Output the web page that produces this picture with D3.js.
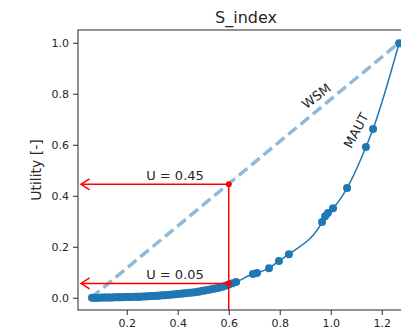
<!DOCTYPE html>
<html>
<head>
<meta charset="utf-8">
<script src="https://cdn.jsdelivr.net/npm/d3@7"></script>
<style>
  body { margin: 0; background: #fff; }
  svg { display: block; }
  text { font-family: "DejaVu Sans", sans-serif; fill: #262626; }
</style>
</head>
<body>
<div id="chart"></div>
<script>
// S_index values and the MAUT utility
var sIndex = [0.064, 0.072, 0.080, 0.088, 0.095, 0.104, 0.112, 0.120, 0.128, 0.135,
    0.144, 0.152, 0.160, 0.168, 0.174, 0.183, 0.192, 0.200, 0.207, 0.213,
    0.222, 0.231, 0.240, 0.246, 0.252, 0.262, 0.271, 0.280, 0.290, 0.299,
    0.308, 0.316, 0.323, 0.331, 0.340, 0.350, 0.360, 0.370, 0.380, 0.390,
    0.400, 0.410, 0.420, 0.429, 0.438, 0.448, 0.458, 0.468, 0.478, 0.487,
    0.497, 0.507, 0.517, 0.527, 0.537, 0.548, 0.558, 0.568, 0.578, 0.590,
    0.601, 0.615, 0.629, 0.695, 0.711, 0.758, 0.797, 0.836, 0.966, 0.978,
    0.989, 1.009, 1.064, 1.138, 1.166, 1.268];
var maut = [0.000, 0.000, 0.000, 0.000, 0.000, 0.001, 0.001, 0.001, 0.001, 0.001,
    0.001, 0.002, 0.002, 0.002, 0.002, 0.002, 0.003, 0.003, 0.003, 0.003,
    0.003, 0.004, 0.004, 0.004, 0.004, 0.005, 0.005, 0.006, 0.006, 0.007,
    0.007, 0.008, 0.008, 0.009, 0.010, 0.010, 0.011, 0.012, 0.013, 0.014,
    0.015, 0.016, 0.017, 0.018, 0.019, 0.020, 0.021, 0.022, 0.024, 0.025,
    0.027, 0.028, 0.030, 0.032, 0.034, 0.036, 0.038, 0.041, 0.044, 0.048,
    0.052, 0.057, 0.062, 0.093, 0.097, 0.116, 0.144, 0.171, 0.297, 0.320,
    0.332, 0.351, 0.430, 0.591, 0.662, 0.998];
// WSM is the straight line between the extremes
var wsmS = [0.060, 1.268];
var wsmU = [0.0, 1.0];
// highlighted reading at S_index = 0.6
var markS = 0.6;
var markU = [0.445, 0.056];
var markLabels = ["U = 0.45", "U = 0.05"];
var xTicks = [0.2, 0.4, 0.6, 0.8, 1.0, 1.2];
var yTicks = [0.0, 0.2, 0.4, 0.6, 0.8, 1.0];

function draw() {
    var W = 401, H = 328;
    var left = 78, right = 420, top = 30, bottom = 310;

    var svg = d3.select("#chart").append("svg")
        .attr("width", W)
        .attr("height", H);

    var x = d3.scaleLinear().domain([0.009, 1.35]).range([left, right]);
    var y = d3.scaleLinear().domain([-0.048, 1.05]).range([bottom, top]);

    svg.append("defs").append("clipPath").attr("id", "plot")
        .append("rect")
        .attr("x", left).attr("y", top)
        .attr("width", right - left).attr("height", bottom - top);

    var plot = svg.append("g").attr("clip-path", "url(#plot)");

    // WSM dashed line
    plot.append("path")
        .datum(d3.zip(wsmS, wsmU))
        .attr("d", d3.line().x(d => x(d[0])).y(d => y(d[1])))
        .attr("fill", "none")
        .attr("stroke", "#8fbbd9")
        .attr("stroke-width", 3.5)
        .attr("stroke-dasharray", "11,5");

    // MAUT curve with markers
    var pts = d3.zip(sIndex, maut);
    plot.append("path")
        .datum(pts)
        .attr("d", d3.line().curve(d3.curveMonotoneX).x(d => x(d[0])).y(d => y(d[1])))
        .attr("fill", "none")
        .attr("stroke", "#1f77b4")
        .attr("stroke-width", 1.5);

    svg.append("g").selectAll("circle")
        .data(pts)
        .enter()
        .append("circle")
        .attr("cx", d => x(d[0]))
        .attr("cy", d => y(d[1]))
        .attr("r", 4)
        .attr("fill", "#1f77b4");

    // red reading lines
    var red = svg.append("g");
    red.append("line")
        .attr("x1", x(markS)).attr("x2", x(markS))
        .attr("y1", y(markU[0])).attr("y2", bottom)
        .attr("stroke", "red").attr("stroke-width", 1.5);

    markU.forEach(function (u, i) {
        var tip = x(0.021), yy = y(u);
        red.append("line")
            .attr("x1", x(markS)).attr("x2", tip)
            .attr("y1", yy).attr("y2", yy)
            .attr("stroke", "red").attr("stroke-width", 1.5);
        red.append("path")
            .attr("d", "M" + (tip + 8.5) + "," + (yy - 5.5) + "L" + tip + "," + yy + "L" + (tip + 8.5) + "," + (yy + 5.5))
            .attr("fill", "none")
            .attr("stroke", "red").attr("stroke-width", 1.5);
        red.append("circle")
            .attr("cx", x(markS)).attr("cy", yy)
            .attr("r", 3).attr("fill", "red");
        svg.append("text")
            .attr("x", 175).attr("y", yy - 4)
            .attr("text-anchor", "middle")
            .attr("font-size", 13)
            .text(markLabels[i]);
    });

    // curve labels
    svg.append("text")
        .attr("transform", "translate(317,97) rotate(-37)")
        .attr("text-anchor", "middle")
        .attr("dominant-baseline", "middle")
        .attr("font-size", 13)
        .text("WSM");
    svg.append("text")
        .attr("transform", "translate(357,131) rotate(-62)")
        .attr("text-anchor", "middle")
        .attr("dominant-baseline", "middle")
        .attr("font-size", 13)
        .text("MAUT");

    // axes
    var xAxis = svg.append("g")
        .attr("transform", "translate(0," + bottom + ")")
        .call(d3.axisBottom(x).tickValues(xTicks).tickFormat(d3.format(".1f")).tickSize(5).tickPadding(4));
    var yAxis = svg.append("g")
        .attr("transform", "translate(" + left + ",0)")
        .call(d3.axisLeft(y).tickValues(yTicks).tickFormat(d3.format(".1f")).tickSize(5).tickPadding(4));
    [xAxis, yAxis].forEach(function (g) {
        g.selectAll("text").attr("font-size", 11).style("font-family", "DejaVu Sans").attr("fill", "#262626");
        g.selectAll("line").attr("stroke", "#262626");
        g.select(".domain").remove();
    });

    // frame
    svg.append("rect")
        .attr("x", left).attr("y", top)
        .attr("width", right - left).attr("height", bottom - top)
        .attr("fill", "none")
        .attr("stroke", "#262626")
        .attr("stroke-width", 1);

    svg.append("text")
        .attr("x", 246).attr("y", 23)
        .attr("text-anchor", "middle")
        .attr("font-size", 16)
        .text("S_index");

    svg.append("text")
        .attr("transform", "translate(41," + (top + bottom) / 2 + ") rotate(-90)")
        .attr("text-anchor", "middle")
        .attr("font-size", 14)
        .text("Utility [-]");
}
draw();
</script>
</body>
</html>
